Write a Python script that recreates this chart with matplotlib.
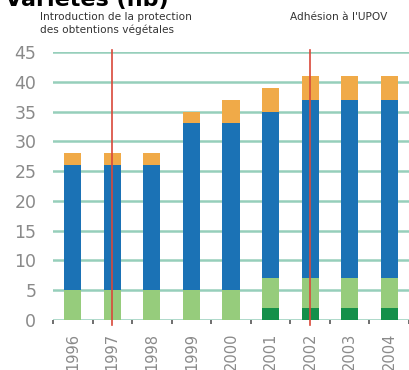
import matplotlib
matplotlib.use("Agg")
import matplotlib.pyplot as plt
import numpy as np

years = ["1996", "1997", "1998", "1999", "2000", "2001", "2002", "2003", "2004"]
dark_green = [0, 0, 0, 0, 0, 2, 2, 2, 2]
light_green = [5, 5, 5, 5, 5, 5, 5, 5, 5]
blue = [21, 21, 21, 28, 28, 28, 30, 30, 30]
orange = [2, 2, 2, 2, 4, 4, 4, 4, 4]
yticks = [0, 5, 10, 15, 20, 25, 30, 35, 40, 45]
events = {"1997": "Introduction de la protection\ndes obtentions végétales",
          "2002": "Adhésion à l'UPOV"}

c_dg = "#14904a"
c_lg = "#96cc7c"
c_bl = "#1b72b5"
c_or = "#f0aa48"
c_grid = "#96cfbb"
c_red = "#d9483a"

fig = plt.figure(figsize=(4.09, 3.70), dpi=100)
ax = fig.add_axes([53/409, 50/370, 1 - 53/409, 268/370])

x = np.arange(len(years))
w = 0.43
b0 = np.array(dark_green, float)
b1 = b0 + np.array(light_green)
b2 = b1 + np.array(blue)
ax.bar(x, dark_green, w, color=c_dg, zorder=3)
ax.bar(x, light_green, w, bottom=b0, color=c_lg, zorder=3)
ax.bar(x, blue, w, bottom=b1, color=c_bl, zorder=3)
ax.bar(x, orange, w, bottom=b2, color=c_or, zorder=3)

ax.set_xlim(-0.5, len(years) - 0.5)
ax.set_ylim(0, 45)
for yv in yticks:
    ax.axhline(yv, color=c_grid, lw=1.8, zorder=1)

for s in ax.spines.values():
    s.set_visible(False)

ax.set_yticks(yticks)
ax.set_yticklabels([str(v) for v in yticks], color="#8a8a8a", fontsize=12.5)
ax.tick_params(axis="y", length=0, pad=12)
ax.set_xticks(x)
ax.set_xticklabels(years, rotation=90, color="#8a8a8a", fontsize=10.5)
ax.tick_params(axis="x", which="major", length=0, pad=9)
ax.set_xticks(np.arange(-0.5, len(years), 1.0), minor=True)
ax.tick_params(axis="x", which="minor", length=3, width=1.2, color="#555555", direction="out")

for yr, label in events.items():
    xi = years.index(yr)
    ax.plot([xi, xi], [-0.9, 45.4], color=c_red, lw=1.2, zorder=4, clip_on=False)

fig.text(40/409, 1 - 12/370, events["1997"], fontsize=7.6, color="#333333",
         va="top", ha="left", linespacing=1.25)
fig.text(290/409, 1 - 12/370, events["2002"], fontsize=7.6, color="#333333",
         va="top", ha="left")

fig.text(5/409, 1 - 6/370, "Variétés (nb)", fontsize=16, fontweight="bold",
         color="black", va="baseline", ha="left")

fig.savefig("out.png", dpi=100)
